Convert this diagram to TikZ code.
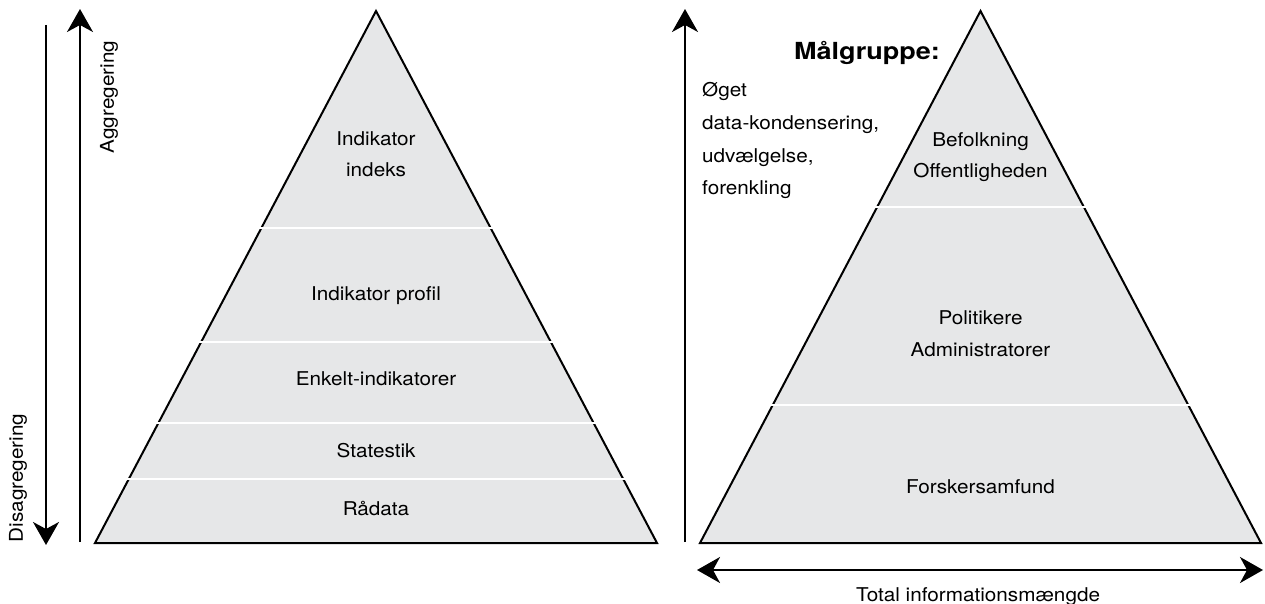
\documentclass[tikz,border=0pt]{standalone}
\usepackage{fontspec}
\usepackage{graphicx}
\setmainfont{TeX Gyre Heros}
\usetikzlibrary{arrows.meta}
\definecolor{pyrfill}{RGB}{230,231,232}
\newcommand\wid[1]{\scalebox{1.09}[1]{#1}}
\newcommand\widb[1]{\scalebox{1.15}[1]{#1}}
\begin{document}
\begin{tikzpicture}[x=1pt,y=-1pt,
  pyr/.style={fill=pyrfill,draw=black,line width=2pt,line join=miter},
  divider/.style={draw=white,line width=2pt},
  arr/.style={draw=black,line width=2pt,-{Stealth[length=23pt,width=26pt,inset=7pt]}},
  darr/.style={draw=black,line width=2pt,{Stealth[length=23pt,width=26pt,inset=7pt]}-{Stealth[length=23pt,width=26pt,inset=7pt]}},
  lbl/.style={font=\fontsize{19}{22}\selectfont,anchor=base,inner sep=0pt},
  side/.style={font=\fontsize{19}{22}\selectfont,anchor=base west,inner sep=0pt},
  vlbl/.style={font=\fontsize{19}{22}\selectfont,rotate=90,inner sep=0pt},
  title/.style={font=\fontsize{23.5}{26}\selectfont\bfseries,anchor=base,inner sep=0pt}]
\useasboundingbox (0,0) rectangle (1265,604);

% left pyramid
\coordinate (LA) at (376,11);
\coordinate (LL) at (95,543);
\coordinate (LR) at (657,543);
\path[pyr] (LL) -- (LA) -- (LR) -- cycle;
\coordinate (d1l) at (259.4,228); \coordinate (d1r) at (492.6,228);
\coordinate (d2l) at (199.2,342); \coordinate (d2r) at (552.8,342);
\coordinate (d3l) at (156.4,423); \coordinate (d3r) at (595.6,423);
\coordinate (d4l) at (126.8,479); \coordinate (d4r) at (625.2,479);
\draw[divider] (d1l) -- (d1r);
\draw[divider] (d2l) -- (d2r);
\draw[divider] (d3l) -- (d3r);
\draw[divider] (d4l) -- (d4r);

\node[lbl] (ind1) at (376,146) {\wid{Indikator}};
\node[lbl] (ind2) at (376,177) {\wid{indeks}};
\node[lbl] (prof) at (376,300) {\wid{Indikator profil}};
\node[lbl] (enk) at (376,385) {\wid{Enkelt-indikatorer}};
\node[lbl] (stat) at (376,457) {\wid{Statestik}};
\node[lbl] (raa) at (376,515) {\wid{Rådata}};

% left arrows
\coordinate (a1s) at (46,25);
\coordinate (a1e) at (46,545);
\coordinate (a2s) at (80,542);
\coordinate (a2e) at (80,9);
\draw[arr] (a1s) -- (a1e);
\draw[arr] (a2s) -- (a2e);
\node[vlbl] (agg) at (109,97) {\wid{Aggregering}};
\node[vlbl] (dis) at (18,478) {\wid{Disagregering}};

% right pyramid
\coordinate (RA) at (980.5,11);
\coordinate (RL) at (700,543);
\coordinate (RR) at (1261,543);
\path[pyr] (RL) -- (RA) -- (RR) -- cycle;
\coordinate (e1l) at (875.3,207); \coordinate (e1r) at (1085.7,207);
\coordinate (e2l) at (770.8,405); \coordinate (e2r) at (1190.2,405);
\draw[divider] (e1l) -- (e1r);
\draw[divider] (e2l) -- (e2r);

\node[lbl] (bef) at (980.5,147) {\wid{Befolkning}};
\node[lbl] (off) at (980.5,178) {\wid{Offentligheden}};
\node[lbl] (pol) at (980.5,324) {\wid{Politikere}};
\node[lbl] (adm) at (980.5,356) {\wid{Administratorer}};
\node[lbl] (fors) at (980.5,493) {\wid{Forskersamfund}};

\node[title] (maal) at (867,59.5) {\widb{Målgruppe:}};
\node[side] (s1) at (702,97) {\wid{Øget}};
\node[side] (s2) at (702,130) {\wid{data-kondensering,}};
\node[side] (s3) at (702,163) {\wid{udvælgelse,}};
\node[side] (s4) at (702,194) {\wid{forenkling}};

% right arrows
\coordinate (a3s) at (685,542);
\coordinate (a3e) at (685,9);
\draw[arr] (a3s) -- (a3e);
\coordinate (h1) at (697,570);
\coordinate (h2) at (1263,570);
\draw[darr] (h1) -- (h2);
\node[lbl] (tot) at (978,601) {\wid{Total informationsmængde}};
\end{tikzpicture}
\end{document}
